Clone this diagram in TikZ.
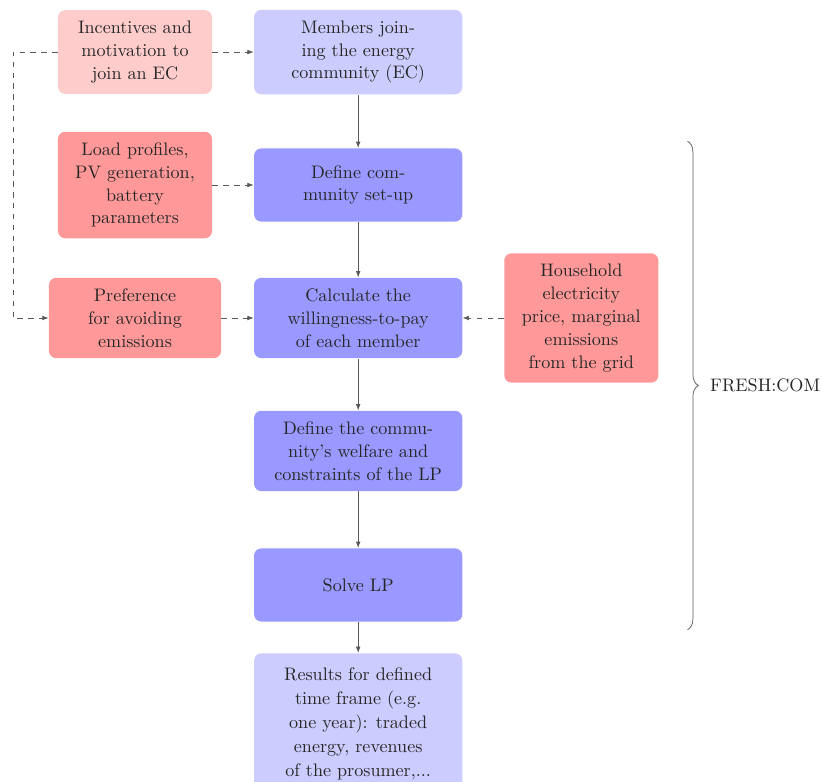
\documentclass[tikz,border=0pt]{standalone}
\usepackage{latexsym,amsmath,amssymb}
\usetikzlibrary{arrows.meta,decorations.pathreplacing}

\begin{document}
\begin{tikzpicture}[
    every node/.style={font=\fontsize{10pt}{12.6pt}\selectfont, text=black!85},
    box/.style={rounded corners=4pt, align=center, minimum height=1.42cm, inner ysep=6pt},
    inbox/.style={box, fill=red!40, minimum width=2.99cm},
    inboxlight/.style={box, fill=red!20, minimum width=2.99cm},
    procbox/.style={box, fill=blue!40, minimum width=4.04cm},
    procboxlight/.style={box, fill=blue!20, minimum width=4.04cm},
    flow/.style={draw=black!65, -{Latex[length=3.5pt,width=2.6pt]}},
    feed/.style={flow, dashed}
]
\useasboundingbox (0,0) rectangle (15.95,-15.17);

% inputs
\node[inboxlight] (incent) at (2.62,-1.01) {Incentives and\\motivation to\\join an EC};
\node[inbox] (load) at (2.62,-3.59) {Load profiles,\\PV generation,\\battery\\parameters};
\node[inbox, minimum width=3.34cm] (pref) at (2.62,-6.17) {Preference\\for avoiding\\emissions};
\node[inbox] (price) at (11.28,-6.17) {Household\\electricity\\price, marginal\\emissions\\from the grid};

% model steps
\node[procboxlight] (join) at (6.95,-1.01) {Members join-\\ing the energy\\community (EC)};
\node[procbox] (setup) at (6.95,-3.59) {Define com-\\munity set-up};
\node[procbox] (wtp) at (6.95,-6.17) {Calculate the\\willingness-to-pay\\of each member};
\node[procbox] (welfare) at (6.95,-8.75) {Define the commu-\\nity's welfare and\\constraints of the LP};
\node[procbox] (solve) at (6.95,-11.35) {Solve LP};
\node[procboxlight, anchor=north, inner ysep=8pt,
      font=\fontsize{10pt}{13.2pt}\selectfont] (result) at (6.95,-12.67)
    {Results for defined\\time frame (e.g.\\one year): traded\\energy, revenues\\of the prosumer,...};

\draw[flow] (join) -- (setup);
\draw[flow] (setup) -- (wtp);
\draw[flow] (wtp) -- (welfare);
\draw[flow] (welfare) -- (solve);
\draw[flow] (solve) -- (result);

\draw[feed] (incent) -- (join);
\draw[feed] (load) -- (setup);
\draw[feed] (pref) -- (wtp);
\draw[feed] (price) -- (wtp);

\coordinate (loop) at (0.25,-1.01);
\draw[feed] (incent.west) -- (loop) |- (pref.west);

% FRESH:COM
\coordinate (bracetop) at (13.34,-2.74);
\coordinate (bracebot) at (13.34,-12.22);
\draw[black!65, decorate, decoration={brace, amplitude=6pt}] (bracetop) -- (bracebot)
    node[midway, right=9pt] (fresh) {FRESH:COM};
\end{tikzpicture}
\end{document}
